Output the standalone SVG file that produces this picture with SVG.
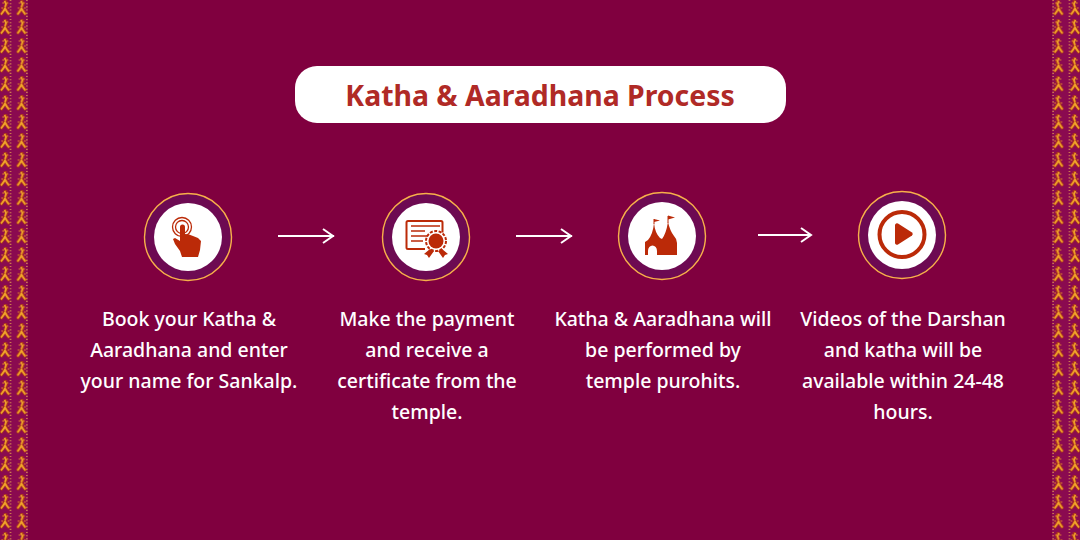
<svg xmlns="http://www.w3.org/2000/svg" width="1080" height="540" viewBox="0 0 1080 540">
<style>
.t{font-family:"Noto Sans","Liberation Sans",sans-serif;font-size:19.5px;font-weight:500;fill:#fff;text-anchor:middle}
.title{font-family:"Noto Sans","Liberation Sans",sans-serif;font-size:28.4px;font-weight:700;fill:#b02a26;text-anchor:middle}
.ring{fill:#6d0a52;stroke:#f7b04a;stroke-width:1.4}
.in{fill:#fff}
.ic{fill:#bb2a08}
.il{fill:none;stroke:#bb2a08}
.arr{fill:none;stroke:#fff;stroke-width:2}
</style>
<defs>
<pattern id="b" width="16.5" height="19" patternUnits="userSpaceOnUse">
<rect width="16.5" height="19" fill="#8a0a50"/>
<path d="M5 0l1.500 4-1.500 4M0.500 15Q3 12 5 8q2 4 4.500 7" fill="none" stroke="#a8301c" stroke-width="3.500"/>
<path d="M4.500 1l1.500 3-1 3M1 14.500Q3.500 11.500 5 8.500q1.500 3 4 6" fill="none" stroke="#f2a52a" stroke-width="1.700"/>
<path d="M3 3h.1M7.500 3h.1M2 8h.1M8.500 8h.1" stroke="#e88a28" stroke-width="1.400" stroke-linecap="round"/>
<path d="M10.500 0v19" stroke="#f2b850" stroke-width="1.100" stroke-dasharray="1.100 2.070"/>
</pattern>
<path id="arrow" class="arr" d="M0 0H56M45-7l10 7-10 7"/>
</defs>
<rect width="1080" height="540" fill="#80003f"/>
<g id="border">
<rect x="0" y="0" width="28" height="540" fill="url(#b)"/>
<rect x="0" y="0" width="28" height="540" fill="url(#b)" transform="translate(1080,0) scale(-1,1)"/>
</g>
<g id="title"><rect x="295" y="66" width="491" height="57" rx="22" fill="#fff"/><text class="title" x="540" y="106">Katha &amp; Aaradhana Process</text></g>
<g id="connectors">
<use href="#arrow" x="278" y="236"/>
<use href="#arrow" x="516" y="236"/>
<path class="arr" d="M758 235H811M801 228l10 7-10 7"/>
</g>
<g id="step1">
<circle class="ring" cx="188" cy="237" r="43.500"/><circle class="in" cx="188" cy="237" r="34"/>
<circle class="il" cx="182" cy="227" r="9.500" stroke-width="1.300"/><circle class="il" cx="182" cy="227" r="6.500" stroke-width="1.300"/>
<path class="ic" d="M180 227a2.500 2.500 0 0 1 5 0v7l4 0.500 4 1.500 5 2 3 3-1 9-2 7h-16l-2-6-5-7-2-5 2-1 5 3z"/>
<text class="t"><tspan x="189" y="326">Book your Katha &amp;</tspan><tspan x="189" y="357">Aaradhana and enter</tspan><tspan x="189" y="388">your name for Sankalp.</tspan></text>
</g>
<g id="step2">
<circle class="ring" cx="426" cy="237" r="43.500"/><circle class="in" cx="426" cy="237" r="34"/>
<path class="il" stroke-width="2" d="M425 249h-17a1.500 1.500 0 0 1-1.500-1.500v-25a1.500 1.500 0 0 1 1.500-1.500h33a1.500 1.500 0 0 1 1.500 1.500v10"/>
<path class="il" stroke-width="1.500" d="M411 226h29M411 231h14M411 236h17M411 241h12"/>
<circle class="ic" cx="436" cy="241" r="7.500"/><circle class="il" cx="436" cy="241" r="10" stroke-width="2" stroke-dasharray="3 1.500"/>
<path class="ic" d="M430 249l-6 5 3 1 2 3 5-7zM442 249l6 5-3 1-2 3-5-7z"/>
<text class="t"><tspan x="427" y="326">Make the payment</tspan><tspan x="427" y="357">and receive a</tspan><tspan x="427" y="388">certificate from the</tspan><tspan x="427" y="419">temple.</tspan></text>
</g>
<g id="step3">
<circle class="ring" cx="662" cy="236" r="43.500"/><circle class="in" cx="662" cy="236" r="34"/>
<path class="ic" d="M645 255v-13l3-2q5-6 6-17q1 10 6 15l2 1q4-5 6-17q2 9 6 14q3 3 3 7v12h-20v-4a4.500 5.500 0 0 0-9 0v4z"/>
<path class="il" stroke-width="1" d="M654 224v-5M668 223v-7"/>
<path class="ic" d="M654 219l6 1.500-6 1.500zM668 215.500l7 2-7 2z"/>
<text class="t"><tspan x="663" y="326">Katha &amp; Aaradhana will</tspan><tspan x="663" y="357">be performed by</tspan><tspan x="663" y="388">temple purohits.</tspan></text>
</g>
<g id="step4">
<circle class="ring" cx="902" cy="235" r="43.500"/><circle class="in" cx="902" cy="235" r="34"/>
<circle class="il" cx="902" cy="234.500" r="22.500" stroke-width="4"/>
<path class="ic" d="M895 225a2 2 0 0 1 3-1.500l14 9a2 2 0 0 1 0 3l-14 9a2 2 0 0 1-3-1.500z"/>
<text class="t"><tspan x="903" y="326">Videos of the Darshan</tspan><tspan x="903" y="357">and katha will be</tspan><tspan x="903" y="388">available within 24-48</tspan><tspan x="903" y="419">hours.</tspan></text>
</g>
</svg>
